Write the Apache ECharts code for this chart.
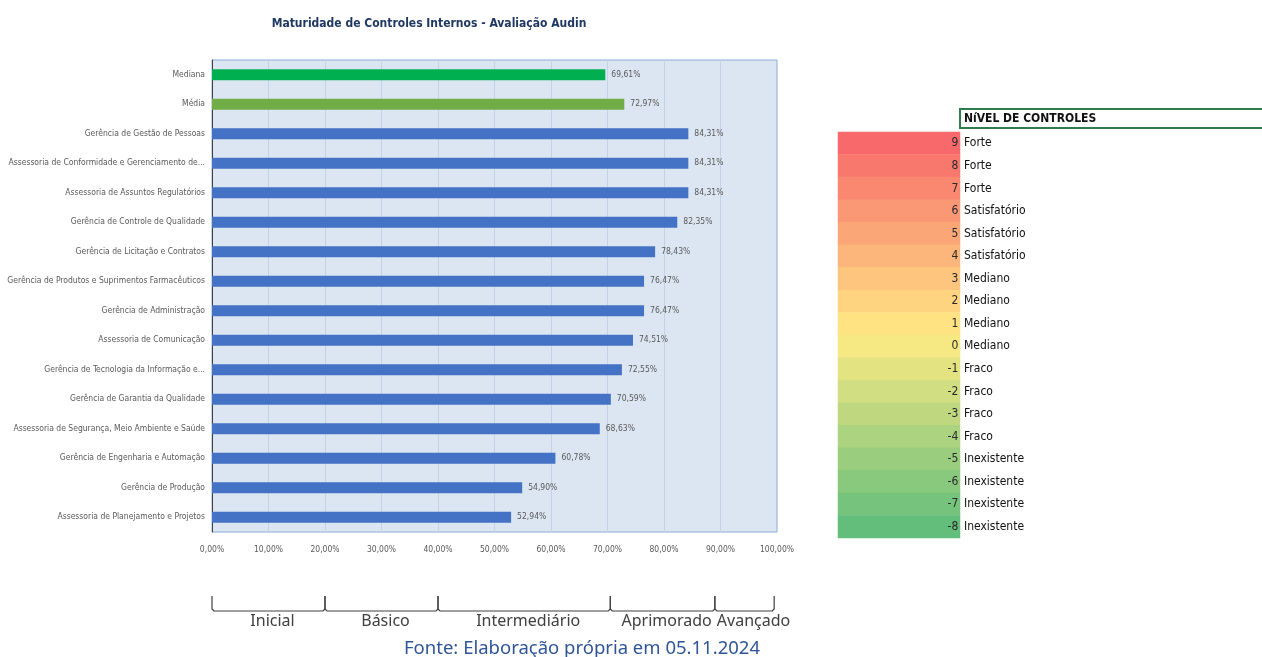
<!DOCTYPE html>
<html>
<head>
<meta charset="utf-8">
<script src="https://cdn.jsdelivr.net/npm/echarts@6/dist/echarts.min.js"></script>
<style>
html,body{margin:0;padding:0;background:#fff;}
#chart{width:1262px;height:657px;}
</style>
</head>
<body>
<div id="chart"></div>
<script>
const categories = [
  'Mediana',
  'Média',
  'Gerência de Gestão de Pessoas',
  'Assessoria de Conformidade e Gerenciamento de...',
  'Assessoria de Assuntos Regulatórios',
  'Gerência de Controle de Qualidade',
  'Gerência de Licitação e Contratos',
  'Gerência de Produtos e Suprimentos Farmacêuticos',
  'Gerência de Administração',
  'Assessoria de Comunicação',
  'Gerência de Tecnologia da Informação e...',
  'Gerência de Garantia da Qualidade',
  'Assessoria de Segurança, Meio Ambiente e Saúde',
  'Gerência de Engenharia e Automação',
  'Gerência de Produção',
  'Assessoria de Planejamento e Projetos'
];
const values = [69.61, 72.97, 84.31, 84.31, 84.31, 82.35, 78.43, 76.47, 76.47, 74.51, 72.55, 70.59, 68.63, 60.78, 54.90, 52.94];

const xTicks = [0, 10, 20, 30, 40, 50, 60, 70, 80, 90, 100];

const bandNames = ['Inicial', 'Básico', 'Intermediário', 'Aprimorado', 'Avançado'];
const bandStart = [0, 20, 40, 70.5, 89];
const bandEnd = [20, 40, 70.5, 89, 99.5];

const levels = [9, 8, 7, 6, 5, 4, 3, 2, 1, 0, -1, -2, -3, -4, -5, -6, -7, -8];
const levelNames = ['Forte', 'Forte', 'Forte', 'Satisfatório', 'Satisfatório', 'Satisfatório',
  'Mediano', 'Mediano', 'Mediano', 'Mediano', 'Fraco', 'Fraco', 'Fraco', 'Fraco',
  'Inexistente', 'Inexistente', 'Inexistente', 'Inexistente'];

const NARROW = "'Liberation Sans Narrow', 'DejaVu Sans Condensed', 'Arial Narrow', sans-serif";
const BAND_FONT = "16px 'Noto Sans', sans-serif";
const fmtPct = v => v.toFixed(2).replace('.', ',') + '%';

const measureCtx = document.createElement('canvas').getContext('2d');
measureCtx.font = BAND_FONT;

const chart = echarts.init(document.getElementById('chart'));
chart.setOption({
  animation: false,
  backgroundColor: '#ffffff',
  title: [
    {
      text: 'Maturidade de Controles Internos - Avaliação Audin',
      left: 424, top: 13, textAlign: 'center',
      textStyle: { fontFamily: NARROW, fontSize: 12, fontWeight: 'bold', color: '#1f3864' }
    },
    {
      text: 'NíVEL DE CONTROLES',
      left: 960, top: 109,
      padding: [4, 180, 3, 4],
      borderColor: '#2e7d4f', borderWidth: 2,
      textStyle: { fontFamily: NARROW, fontSize: 12, fontWeight: 'bold', color: '#111' }
    },
    {
      text: 'Fonte: Elaboração própria em 05.11.2024',
      left: 577, top: 634, textAlign: 'center',
      textStyle: { fontFamily: "'Noto Sans', sans-serif", fontSize: 18.5, fontWeight: 'normal', color: '#2f5597' }
    }
  ],
  visualMap: {
    show: false, type: 'continuous', seriesIndex: 2, dimension: 2,
    min: -8, max: 9,
    inRange: { color: ['#63BE7B', '#FFEB84', '#F8696B'] }
  },
  grid: [
    { left: 212, width: 565, top: 60, height: 472, outerBoundsMode: 'none', containLabel: false, show: true, backgroundColor: '#dce6f2', borderColor: '#8faadc', borderWidth: 1 },
    { left: 212, width: 565, top: 596, height: 15, outerBoundsMode: 'none', containLabel: false },
    { left: 838, width: 122, top: 132, height: 406, outerBoundsMode: 'none', containLabel: false }
  ],
  xAxis: [
    {
      gridIndex: 0, type: 'value', min: 0, max: 100, interval: 10,
      axisLine: { show: false }, axisTick: { show: false },
      splitLine: { show: true, lineStyle: { color: '#c3d2e6', width: 1 } },
      axisLabel: { margin: 13, fontFamily: NARROW, fontSize: 8.5, color: '#595959', formatter: v => fmtPct(v) }
    },
    { gridIndex: 1, type: 'value', min: 0, max: 100, show: false },
    { gridIndex: 2, type: 'category', data: [''], show: false }
  ],
  yAxis: [
    {
      gridIndex: 0, type: 'category', data: categories, inverse: true,
      axisLine: { show: true, lineStyle: { color: '#404040', width: 1 } },
      axisTick: { show: false },
      axisLabel: { margin: 7, fontFamily: NARROW, fontSize: 8.5, color: '#595959' }
    },
    { gridIndex: 1, type: 'value', min: 0, max: 1, show: false },
    {
      gridIndex: 2, type: 'category', data: levels.map(String), inverse: true, position: 'right',
      axisLine: { show: false }, axisTick: { show: false },
      axisLabel: { margin: 4, fontFamily: NARROW, fontSize: 12, color: '#111', formatter: (v, i) => levelNames[i] }
    }
  ],
  series: [
    {
      type: 'bar', xAxisIndex: 0, yAxisIndex: 0,
      data: values, barWidth: 11,
      itemStyle: {
        color: p => p.dataIndex === 0 ? '#00b050' : (p.dataIndex === 1 ? '#70ad47' : '#4472c4')
      },
      label: {
        show: true, position: 'right', distance: 6,
        fontFamily: NARROW, fontSize: 8.5, color: '#595959',
        formatter: p => fmtPct(p.value)
      }
    },
    {
      type: 'custom', xAxisIndex: 1, yAxisIndex: 1,
      data: bandStart.map((s, i) => [s, bandEnd[i]]),
      renderItem: (params, api) => {
        const i = params.dataIndex;
        const p0 = api.coord([api.value(0), 1]);
        const p1 = api.coord([api.value(1), 0]);
        const a = p0[0], b = p1[0], top = p0[1], bot = p1[1];
        const tw = measureCtx.measureText(bandNames[i]).width;
        const wide = tw > (b - a) - 4;
        return {
          type: 'group',
          children: [
            {
              type: 'polyline',
              shape: { points: [[a, top], [a, bot - 2], [a + 2, bot], [b - 2, bot], [b, bot - 2], [b, top]] },
              style: { stroke: '#404040', lineWidth: 1.2, fill: null }
            },
            {
              type: 'text',
              x: wide ? a + 2 : (a + b) / 2 + 4, y: bot + 2,
              style: {
                text: bandNames[i], align: wide ? 'left' : 'center', verticalAlign: 'top',
                font: BAND_FONT, fill: '#404040'
              }
            }
          ]
        };
      }
    },
    {
      type: 'heatmap', xAxisIndex: 2, yAxisIndex: 2,
      data: levels.map((lv, i) => [0, i, lv]),
      itemStyle: { borderWidth: 0 },
      label: {
        show: true, position: 'insideRight', distance: 2,
        fontFamily: NARROW, fontSize: 12, color: '#2a2a2a',
        formatter: p => String(p.value[2])
      }
    }
  ]
});
</script>
</body>
</html>
